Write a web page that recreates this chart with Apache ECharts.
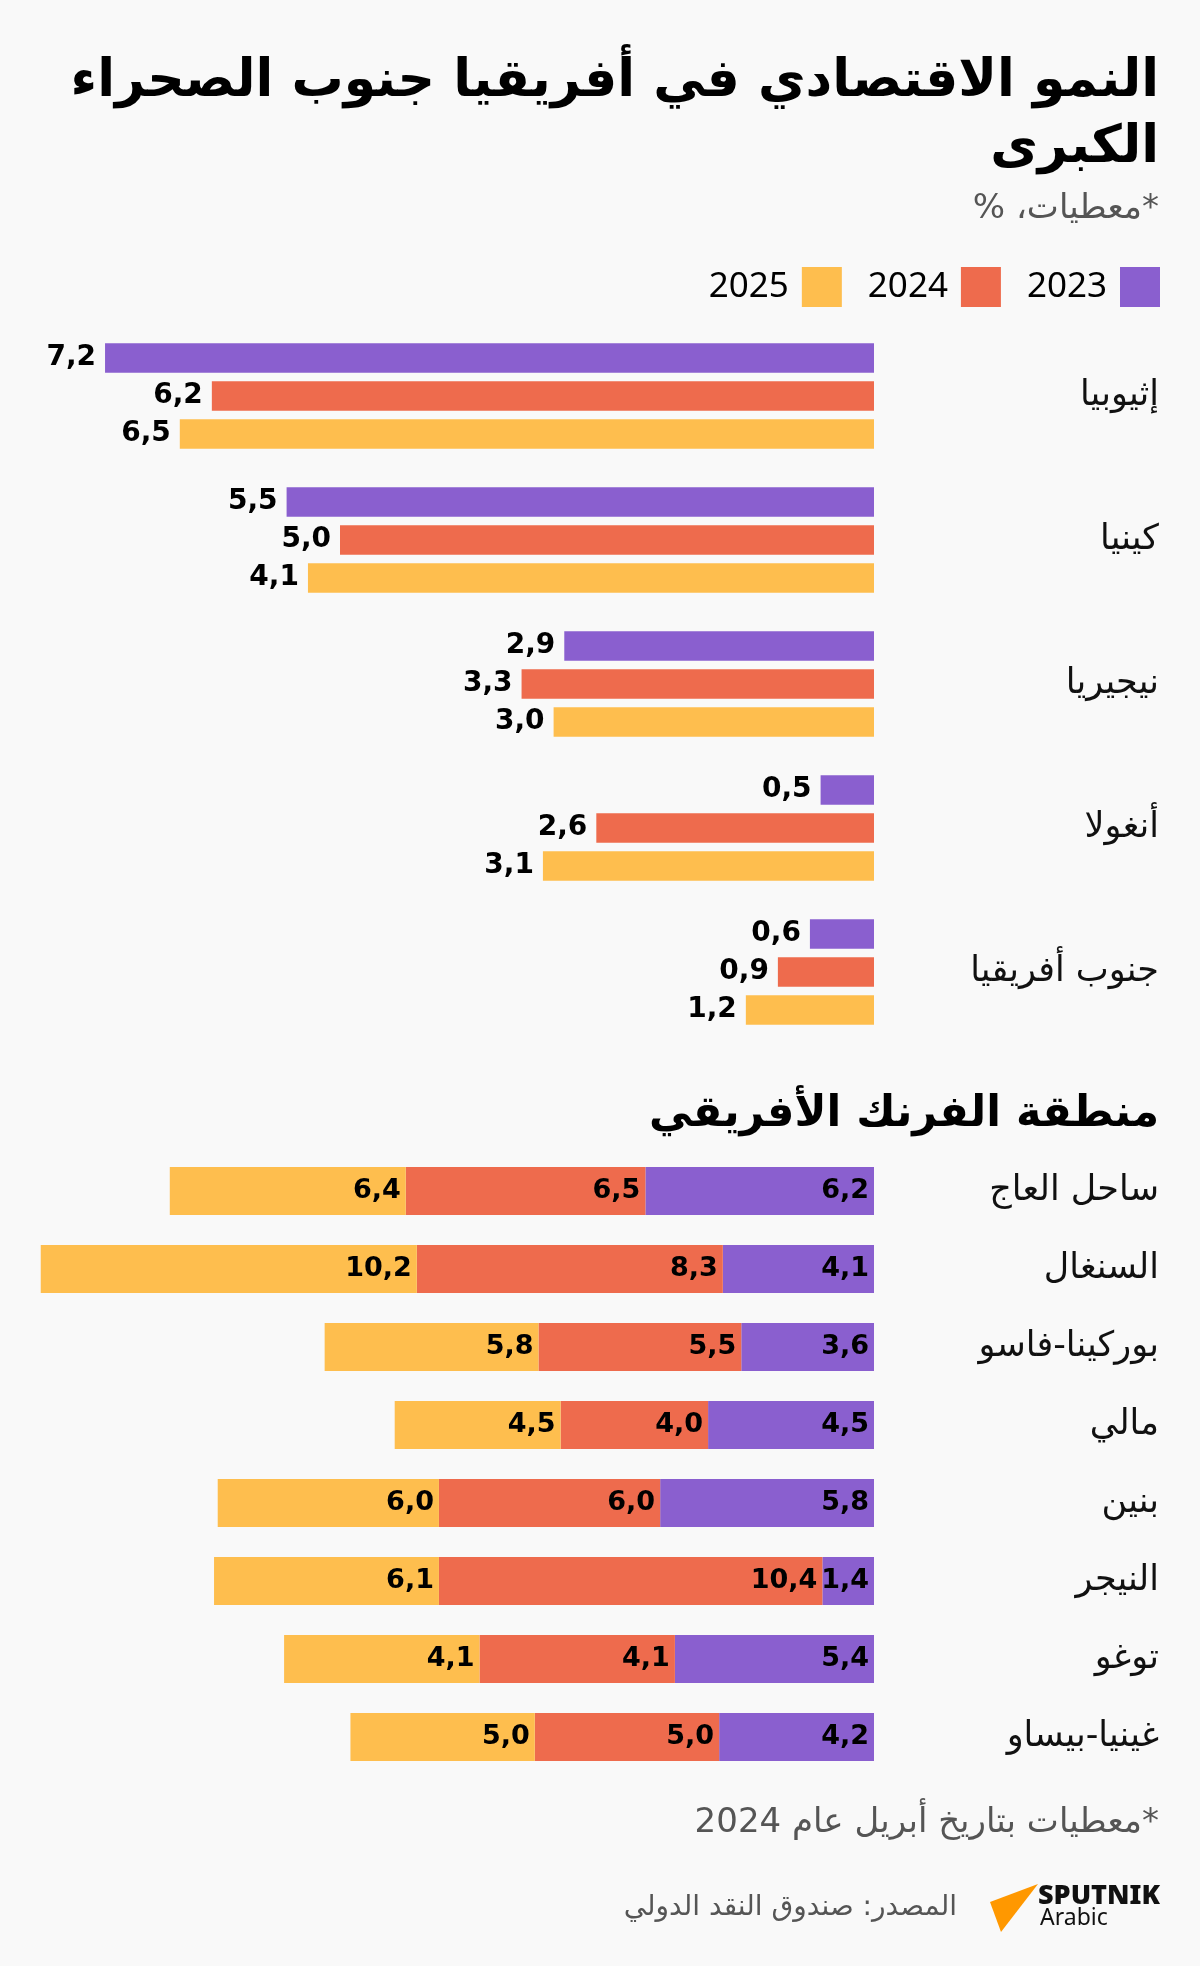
<!DOCTYPE html>
<html>
<head>
<meta charset="utf-8">
<script src="https://cdn.jsdelivr.net/npm/echarts@6/dist/echarts.min.js"></script>
<style>
html,body{margin:0;padding:0;background:#f9f9f9;}
#c{width:1200px;height:1966px;}
</style>
</head>
<body>
<div id="c"></div>
<script>
// ---- Data ----
var years = ['2023', '2024', '2025'];
var topCountries = ['إثيوبيا', 'كينيا', 'نيجيريا', 'أنغولا', 'جنوب أفريقيا'];
// bar lengths as drawn in the reference
var top2023 = [7.2, 5.5, 2.9, 0.5, 0.6];
var top2024 = [6.2, 5.0, 3.3, 2.6, 0.9];
var top2025 = [6.5, 5.3, 3.0, 3.1, 1.2];
// printed labels where the reference text differs from the drawn bar length
var top2025Printed = ['6,5', '4,1', '3,0', '3,1', '1,2'];

var francCountries = ['ساحل العاج', 'السنغال', 'بوركينا-فاسو', 'مالي', 'بنين', 'النيجر', 'توغو', 'غينيا-بيساو'];
var franc2023 = [6.2, 4.1, 3.6, 4.5, 5.8, 1.4, 5.4, 4.2];
var franc2024 = [6.5, 8.3, 5.5, 4.0, 6.0, 10.4, 5.3, 5.0];
var franc2025 = [6.4, 10.2, 5.8, 4.5, 6.0, 6.1, 5.3, 5.0];
var franc2024Printed = ['6,5', '8,3', '5,5', '4,0', '6,0', '10,4', '4,1', '5,0'];
var franc2025Printed = ['6,4', '10,2', '5,8', '4,5', '6,0', '6,1', '4,1', '5,0'];

var colors = ['#8a5fcf', '#ee6b4d', '#febe4e'];

var AR = '"DejaVu Sans", sans-serif';
var LAT = '"Noto Sans", "DejaVu Sans", sans-serif';
function rtl(s) { return '\u202B' + s + '\u202C'; }
function makeFmt(printed) {
  return function (p) {
    if (printed) return printed[p.dataIndex];
    return p.value.toFixed(1).replace('.', ',');
  };
}

var chart = echarts.init(document.getElementById('c'), null, {renderer: 'canvas'});

var valueLabel = {
  show: true, color: '#000', fontFamily: AR, fontWeight: 'bold', fontSize: 28
};

var series = [];
var topData = [top2023, top2024, top2025];
var topPrinted = [null, null, top2025Printed];
var frData = [franc2023, franc2024, franc2025];
var frPrinted = [null, franc2024Printed, franc2025Printed];
for (var i = 0; i < 3; i++) {
  series.push({
    type: 'bar', name: years[i], xAxisIndex: 0, yAxisIndex: 0,
    data: topData[i], barWidth: 29.5, barGap: '29%',
    itemStyle: {color: colors[i]},
    label: Object.assign({}, valueLabel, {position: 'left', distance: 9, formatter: makeFmt(topPrinted[i])}),
    silent: true
  });
}
for (var j = 0; j < 3; j++) {
  series.push({
    type: 'bar', name: years[j], xAxisIndex: 1, yAxisIndex: 1, stack: 'fr',
    data: frData[j], barWidth: 48,
    itemStyle: {color: colors[j]},
    label: Object.assign({}, valueLabel, {fontSize: 27, position: 'insideRight', distance: 5, formatter: makeFmt(frPrinted[j])}),
    silent: true
  });
}

var catLabel = {
  margin: 285, align: 'right', color: '#111', fontFamily: AR, fontSize: 35
};

var option = {
  backgroundColor: '#f9f9f9',
  animation: false,
  color: colors,
  legend: {
    data: ['2025', '2024', '2023'],
    right: 40, top: 267, padding: 0,
    align: 'right',
    itemWidth: 40, itemHeight: 40, itemGap: 26,
    icon: 'rect',
    selectedMode: false,
    textStyle: {fontFamily: LAT, fontSize: 35, color: '#000', padding: [0, 8, 0, 0]}
  },
  grid: [
    {left: 19.6, right: 326, top: 324, height: 720},
    {left: 26, right: 326, top: 1152, height: 624}
  ],
  xAxis: [
    {gridIndex: 0, type: 'value', min: 0, max: 8, inverse: true, show: false},
    {gridIndex: 1, type: 'value', min: 0, max: 23, inverse: true, show: false}
  ],
  yAxis: [
    {gridIndex: 0, type: 'category', data: topCountries, inverse: true, position: 'right',
     axisLine: {show: false}, axisTick: {show: false}, splitLine: {show: false},
     axisLabel: catLabel},
    {gridIndex: 1, type: 'category', data: francCountries, inverse: true, position: 'right',
     axisLine: {show: false}, axisTick: {show: false}, splitLine: {show: false},
     axisLabel: catLabel}
  ],
  series: series,
  graphic: [
    {type: 'text', right: 41, top: 56, style: {text: 'النمو الاقتصادي في أفريقيا جنوب الصحراء', font: 'bold 52px ' + AR, fill: '#000'}},
    {type: 'text', right: 41, top: 122, style: {text: 'الكبرى', font: 'bold 52px ' + AR, fill: '#000'}},
    {type: 'text', right: 41, top: 192, style: {text: rtl('*معطيات، %'), font: '34px ' + AR, fill: '#555'}},
    {type: 'text', right: 41, top: 1093, style: {text: 'منطقة الفرنك الأفريقي', font: 'bold 43px ' + AR, fill: '#000'}},
    {type: 'text', right: 41, top: 1806, style: {text: rtl('*معطيات بتاريخ أبريل عام 2024'), font: '34px ' + AR, fill: '#555'}},
    {type: 'text', right: 243, top: 1894, style: {text: rtl('المصدر: صندوق النقد الدولي'), font: '28px ' + AR, fill: '#555'}},
    {type: 'polygon', shape: {points: [[1038, 1884], [990, 1902], [1001, 1932]]}, style: {fill: '#ff9800'}},
    {type: 'text', left: 1038, top: 1883, style: {text: 'SPUTNIK', font: '900 27px ' + LAT, fill: '#111'}},
    {type: 'text', left: 1040, top: 1907, style: {text: 'Arabic', font: '23px ' + LAT, fill: '#111'}}
  ]
};
chart.setOption(option);
</script>
</body>
</html>
